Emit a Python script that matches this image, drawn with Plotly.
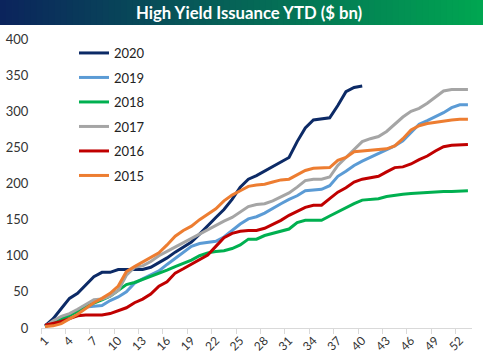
import plotly.graph_objects as go

weeks = list(range(1, 54))

y2020 = [3, 13, 27, 41, 48, 60, 71, 77, 77, 81, 81, 81, 81, 84, 90, 97, 105, 112, 119, 130,
         142, 153, 164, 178, 195, 206, 211, 217, 223, 229, 236, 258, 277, 288, 290, 291, 308, 327, 333, 335]
y2019 = [2, 8, 14, 18, 24, 29, 30, 31, 38, 43, 50, 62, 68, 73, 79, 88, 96, 104, 113, 117,
         119, 120, 126, 135, 144, 151, 154, 159, 166, 172, 178, 183, 190, 191, 192, 197, 210, 217, 225, 231,
         236, 241, 246, 252, 259, 270, 282, 287, 292, 298, 305, 309, 309]
y2018 = [2, 6, 12, 17, 23, 30, 34, 39, 44, 52, 60, 63, 67, 71, 75, 80, 85, 89, 94, 100,
         104, 106, 107, 110, 115, 123, 123, 128, 131, 134, 137, 146, 149, 149, 149, 155, 161, 167, 172, 177,
         178, 179, 182, 184, 185, 186, 187, 188, 189, 189, 189, 190, 190]
y2017 = [2, 10, 16, 20, 26, 32, 39, 40, 44, 52, 73, 84, 86, 92, 100, 106, 112, 118, 124, 131,
         137, 143, 148, 153, 160, 168, 171, 172, 176, 182, 187, 195, 204, 206, 206, 209, 225, 236, 247, 258,
         262, 265, 272, 282, 292, 300, 304, 311, 320, 328, 330, 330, 330]
y2016 = [4, 6, 9, 13, 17, 18, 18, 18, 20, 24, 28, 35, 40, 47, 58, 64, 76, 82, 88, 95,
         101, 113, 125, 131, 134, 135, 135, 138, 143, 149, 156, 162, 167, 170, 170, 179, 188, 194, 202, 206,
         208, 210, 216, 222, 223, 227, 233, 238, 245, 251, 253, 254, 254]
y2015 = [2, 3, 6, 12, 19, 27, 35, 41, 48, 58, 78, 85, 91, 98, 104, 115, 127, 135, 141, 150,
         158, 165, 176, 184, 190, 196, 198, 199, 202, 205, 206, 212, 218, 221, 222, 222, 232, 236, 244, 245,
         245, 246, 248, 252, 262, 274, 280, 283, 285, 287, 288, 289, 289]

series = [
    ("2020", y2020, "#0c2a66"),
    ("2019", y2019, "#5b9bd5"),
    ("2018", y2018, "#00b050"),
    ("2017", y2017, "#a5a5a5"),
    ("2016", y2016, "#c00000"),
    ("2015", y2015, "#ed7d31"),
]

x_ticks = list(range(1, 54, 3))
y_ticks = list(range(0, 401, 50))

title_text = "High Yield Issuance YTD ($ bn)"

PW, PH = 431, 289  # plot area size in px

fig = go.Figure()
for name, vals, color in series:
    fig.add_trace(go.Scatter(
        x=weeks[:len(vals)], y=vals, name=name, mode="lines",
        line=dict(color=color, width=3), legendgroup=name,
    ))

# gradient title bar
n = 80
c0 = (11, 36, 92)
c1 = (0, 166, 81)
shapes = []
for i in range(n):
    t = i / (n - 1)
    col = tuple(int(round(c0[k] + (c1[k] - c0[k]) * t)) for k in range(3))
    shapes.append(dict(
        type="rect", xref="paper", yref="paper",
        x0=-41 / PW + (483 / PW) * i / n, x1=-41 / PW + (483 / PW) * (i + 1) / n + 0.002,
        y0=1 + 14 / PH, y1=1 + 39 / PH,
        fillcolor="rgb(%d,%d,%d)" % col, line=dict(width=0), layer="above",
    ))

fig.update_layout(
    width=483, height=362,
    margin=dict(l=41, r=11, t=39, b=34, autoexpand=False),
    paper_bgcolor="white", plot_bgcolor="white",
    font=dict(family="Lato, Noto Sans, sans-serif", color="#333333", size=13),
    shapes=shapes,
    annotations=[dict(
        text="<b>%s</b>" % title_text, xref="paper", yref="paper",
        x=(249 - 41) / PW, y=1 + 26.5 / PH, xanchor="center", yanchor="middle",
        showarrow=False, font=dict(color="white", size=16.7, family="Lato, Noto Sans, sans-serif"),
    )],
    legend=dict(
        x=(74 - 41) / PW, y=1 - (38 - 39) / PH, xanchor="left", yanchor="top",
        bgcolor="rgba(0,0,0,0)", font=dict(size=13, color="#222222"),
        tracegroupgap=4.6,
    ),
    showlegend=True,
)

fig.update_xaxes(
    range=[0.5, 53.5], tickmode="array", tickvals=x_ticks, ticktext=[str(v) for v in x_ticks],
    tickangle=-45, ticks="", showgrid=False, zeroline=False, automargin=False,
    showline=True, linecolor="#d9d9d9", linewidth=1,
    tickfont=dict(size=12, color="#333333"),
    minor=dict(tick0=0.5, dtick=3, ticks="outside", ticklen=5, tickcolor="#d9d9d9", showgrid=False),
)
fig.update_yaxes(
    range=[0, 400], tickmode="array", tickvals=y_ticks, ticktext=[str(v) for v in y_ticks],
    showgrid=False, zeroline=False, showline=False, automargin=False,
    ticks="outside", ticklen=9, tickcolor="rgba(0,0,0,0)",
    tickfont=dict(size=13, color="#333333"),
)

fig.write_html(
    "out.html",
    config={"displayModeBar": False},
    post_script="document.body.style.margin='0';document.body.style.overflow='hidden';",
)
